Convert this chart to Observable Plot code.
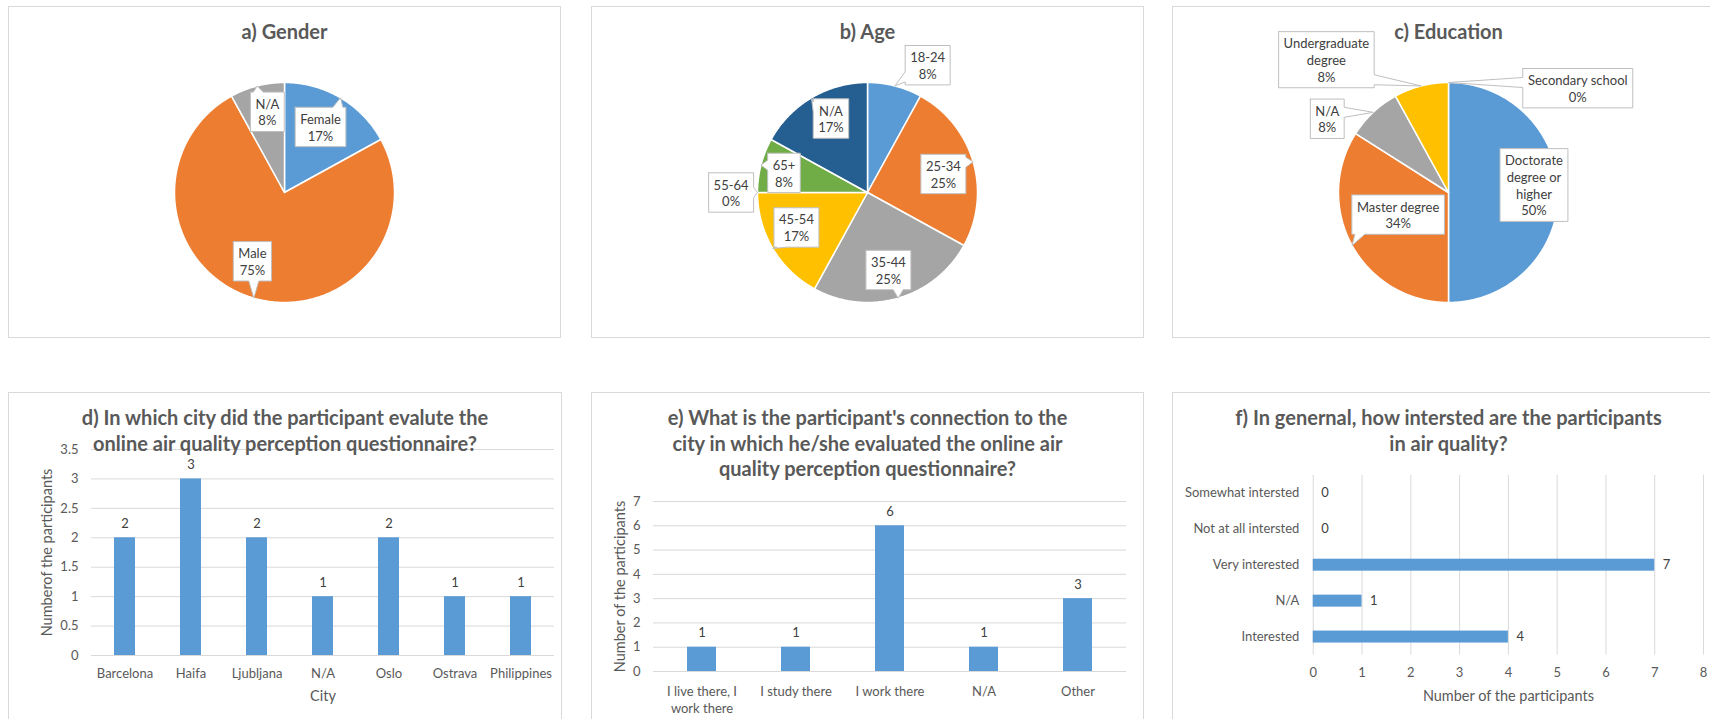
<!DOCTYPE html>
<html><head><meta charset="utf-8">
<script src="https://cdn.jsdelivr.net/npm/d3@7"></script>
<script src="https://cdn.jsdelivr.net/npm/@observablehq/plot@0.6"></script>
<style>
html,body{margin:0;padding:0;background:#fff;}
#root{position:relative;width:1710px;height:719px;overflow:hidden;background:#fff;font-family:Lato,sans-serif;}
.panel{position:absolute;box-sizing:border-box;border:1px solid #d9d9d9;background:#fff;overflow:hidden}
.panel svg{position:absolute;left:0;top:0;}
.title{position:absolute;left:0;right:0;top:12px;text-align:center;font:bold 20px/25.5px Lato,sans-serif;color:#595959;white-space:pre;}
</style></head><body><div id="root"></div>
<script>
// ---------- data ----------
const genderCats = ["Female", "Male", "N/A"];
const genderPct = [17, 75, 8];
const ageCats = ["18-24", "25-34", "35-44", "45-54", "55-64", "65+", "N/A"];
const agePct = [8, 25, 25, 17, 0, 8, 17];
const eduCats = ["Doctorate degree or higher", "Master degree", "N/A", "Undergraduate degree", "Secondary school"];
const eduPct = [50, 34, 8, 8, 0];
const eduDisplay = ["Doctorate\ndegree or\nhigher", "Master degree", "N/A", "Undergraduate\ndegree", "Secondary school"];

const cities = ["Barcelona", "Haifa", "Ljubljana", "N/A", "Oslo", "Ostrava", "Philippines"];
const cityCounts = [2, 3, 2, 1, 2, 1, 1];
const cityTicks = [0, 0.5, 1, 1.5, 2, 2.5, 3, 3.5];

const connections = ["I live there, I work there", "I study there", "I work there", "N/A", "Other"];
const connectionTickLabels = ["I live there, I\nwork there", "I study there", "I work there", "N/A", "Other"];
const connectionCounts = [1, 1, 6, 1, 3];
const connectionTicks = [0, 1, 2, 3, 4, 5, 6, 7];

const interestCats = ["Somewhat intersted", "Not at all intersted", "Very interested", "N/A", "Interested"];
const interestCounts = [0, 0, 7, 1, 4];
const interestTicks = [0, 1, 2, 3, 4, 5, 6, 7, 8];

// ---------- styles ----------
const BLUE = "#5b9bd5", GRID = "#d9d9d9", LABEL = "#404040";
const excelColors = ["#5b9bd5", "#ed7d31", "#a5a5a5", "#ffc000", "#4472c4", "#70ad47", "#255e91"];
const style = {fontFamily: "Lato, sans-serif", fontSize: "13px", color: "#595959", background: "transparent", overflow: "visible"};
const LH = 16.7;
const ctx = document.createElement("canvas").getContext("2d");
ctx.font = "13px Lato";

const root = document.getElementById("root");
function panel(left, top, w, h, title, svg) {
  const div = document.createElement("div");
  div.className = "panel";
  Object.assign(div.style, {left: left + "px", top: top + "px", width: w + "px", height: h + "px"});
  div.appendChild(svg);
  const t = document.createElement("div");
  t.className = "title";
  t.textContent = title;
  div.appendChild(t);
  root.appendChild(div);
}

function callout(cx, cy, w, h, tx, ty) {
  const L = cx - w / 2, R = cx + w / 2, T = cy - h / 2, B = cy + h / 2;
  const inside = tx >= L - 1 && tx <= R + 1 && ty >= T - 1 && ty <= B + 1;
  const dx = tx - cx, dy = ty - cy;
  let edge = null;
  if (!inside) edge = Math.abs(dx) * h > Math.abs(dy) * w ? (dx > 0 ? "R" : "L") : (dy > 0 ? "B" : "T");
  const hw = 5;
  const clamp = (v, a, b) => Math.max(a, Math.min(b, v));
  const p = [[L, T]];
  if (edge === "T") { const bx = clamp(tx, L + hw + 3, R - hw - 3); p.push([bx - hw, T], [tx, ty], [bx + hw, T]); }
  p.push([R, T]);
  if (edge === "R") { const by = clamp(ty, T + hw + 3, B - hw - 3); p.push([R, by - hw], [tx, ty], [R, by + hw]); }
  p.push([R, B]);
  if (edge === "B") { const bx = clamp(tx, L + hw + 3, R - hw - 3); p.push([bx + hw, B], [tx, ty], [bx - hw, B]); }
  p.push([L, B]);
  if (edge === "L") { const by = clamp(ty, T + hw + 3, B - hw - 3); p.push([L, by + hw], [tx, ty], [L, by - hw]); }
  p.push([L, T]);
  return p;
}

// label placement: angle shift from slice middle (deg), distance as fraction of radius
function pie(cats, pct, colors, display, shift, rad) {
  const r = 110, cx = 275, cy = 185, W = 551, H = 330;
  const total = d3.sum(pct);
  const toRad = Math.PI / 180;
  let acc = 0;
  const slices = pct.map((v, i) => {
    const a0 = acc / total * 360; acc += v; const a1 = acc / total * 360;
    return {k: cats[i], v, a0, a1, mid: (a0 + a1) / 2};
  });
  const pts = [];
  for (const s of slices) {
    if (s.v <= 0) continue;
    pts.push({k: s.k, x: 0, y: 0});
    const n = Math.max(2, Math.ceil((s.a1 - s.a0) * 2));
    for (let j = 0; j <= n; j++) {
      const a = (s.a0 + (s.a1 - s.a0) * j / n) * toRad;
      pts.push({k: s.k, x: Math.sin(a), y: Math.cos(a)});
    }
    pts.push({k: s.k, x: 0, y: 0});
  }
  const boxes = [], labels = [];
  slices.forEach((s, i) => {
    const lines = display[i].split("\n").concat([s.v + "%"]);
    const w = d3.max(lines, l => ctx.measureText(l).width) + 10;
    const h = lines.length * LH + 6;
    const la = (s.mid + shift[i]) * toRad;
    const lx = r * rad[i] * Math.sin(la), ly = -r * rad[i] * Math.cos(la);
    const tx = r * Math.sin(s.mid * toRad), ty = -r * Math.cos(s.mid * toRad);
    callout(lx, ly, w, h, tx, ty).forEach(([px, py]) => boxes.push({k: s.k, x: px / r, y: -py / r}));
    labels.push({x: lx / r, y: -ly / r, text: lines.join("\n")});
  });
  return Plot.plot({
    width: W, height: H, margin: 0, style,
    x: {domain: [-1, 1], range: [cx - r, cx + r], axis: null},
    y: {domain: [-1, 1], range: [cy + r, cy - r], axis: null},
    color: {domain: cats, range: colors},
    marks: [
      Plot.line(pts, {x: "x", y: "y", z: "k", fill: "k", stroke: "#fff", strokeWidth: 1.5, strokeLinejoin: "round"}),
      Plot.line(boxes, {x: "x", y: "y", z: "k", fill: "#fff", stroke: "#bfbfbf", strokeWidth: 1, strokeLinejoin: "miter"}),
      Plot.text(labels, {x: "x", y: "y", text: "text", fontSize: 13, lineHeight: LH / 13, fill: LABEL})
    ]
  });
}

// ---------- pies ----------
panel(8, 6, 553, 332, "a) Gender",
  pie(genderCats, genderPct, excelColors.slice(0, 3), genderCats, [-1.8, 8.8, 2.4], [0.68, 0.69, 0.75]));
panel(591, 6, 553, 332, "b) Age",
  pie(ageCats, agePct, excelColors, ageCats, [10.9, 2.5, 1.1, 4.4, 0, -1.2, 4.3], [1.28, 0.71, 0.73, 0.72, 1.24, 0.78, 0.75]));
panel(1172, 6, 553, 332, "c) Education",
  pie(eduCats, eduPct, excelColors.slice(0, 5), eduDisplay, [-5, 5.1, -15.5, -28.2, 51.1], [0.78, 0.5, 1.29, 1.64, 1.51]));

// ---------- d) cities ----------
panel(8, 392, 554, 340, "d) In which city did the participant evalute the\nonline air quality perception questionnaire?",
  Plot.plot({
    width: 552, height: 327, marginLeft: 82, marginRight: 7, marginTop: 56, marginBottom: 65, style,
    x: {domain: cities, paddingInner: 0.68, paddingOuter: 0.34},
    y: {domain: [0, 3.5]},
    marks: [
      Plot.gridY(cityTicks, {stroke: GRID, strokeOpacity: 1}),
      Plot.barY(cityCounts, {x: cities, y: cityCounts, fill: BLUE}),
      Plot.text(cityCounts, {x: cities, y: cityCounts, text: d => String(d), dy: -14, fill: LABEL}),
      Plot.axisY(cityTicks, {tickSize: 0, tickPadding: 13, tickFormat: d => String(d), label: null}),
      Plot.axisX({tickSize: 0, tickPadding: 13, label: null}),
      Plot.text(["City"], {text: d => d, frameAnchor: "bottom", lineAnchor: "middle", dy: 41, fontSize: 14.5}),
      Plot.text(["Numberof the participants"], {text: d => d, frameAnchor: "left", textAnchor: "middle", lineAnchor: "middle", dx: -44, rotate: -90, fontSize: 14.5})
    ]
  }));

// ---------- e) connection ----------
panel(591, 392, 553, 340, "e) What is the participant's connection to the\ncity in which he/she evaluated the online air\nquality perception questionnaire?",
  Plot.plot({
    width: 551, height: 327, marginLeft: 61, marginRight: 17, marginTop: 108, marginBottom: 49, style,
    x: {domain: connections, paddingInner: 0.687, paddingOuter: 0.343, axis: null},
    y: {domain: [0, 7]},
    marks: [
      Plot.gridY(connectionTicks, {stroke: GRID, strokeOpacity: 1}),
      Plot.barY(connectionCounts, {x: connections, y: connectionCounts, fill: BLUE}),
      Plot.text(connectionCounts, {x: connections, y: connectionCounts, text: d => String(d), dy: -14, fill: LABEL}),
      Plot.axisY(connectionTicks, {tickSize: 0, tickPadding: 13, label: null}),
      Plot.text(connections, {x: connections, text: connectionTickLabels, frameAnchor: "bottom", lineAnchor: "top", dy: 13, lineHeight: 1.28}),
      Plot.text(["Number of the participants"], {text: d => d, frameAnchor: "left", textAnchor: "middle", lineAnchor: "middle", dx: -33, rotate: -90, fontSize: 14.5})
    ]
  }));

// ---------- f) interest ----------
panel(1172, 392, 553, 340, "f) In genernal, how intersted are the participants\nin air quality?",
  Plot.plot({
    width: 552, height: 327, marginLeft: 140, marginRight: 21, marginTop: 82, marginBottom: 65, style,
    x: {domain: [0, 8]},
    y: {domain: interestCats, paddingInner: 0.667, paddingOuter: 0.333},
    marks: [
      Plot.gridX(interestTicks, {stroke: GRID, strokeOpacity: 1}),
      Plot.barX(interestCounts, {x: interestCounts, y: interestCats, fill: BLUE}),
      Plot.text(interestCounts, {x: interestCounts, y: interestCats, text: d => String(d), dx: 8, textAnchor: "start", fill: LABEL}),
      Plot.axisX(interestTicks, {tickSize: 0, tickPadding: 13, label: null}),
      Plot.axisY({tickSize: 0, tickPadding: 14, label: null}),
      Plot.text(["Number of the participants"], {text: d => d, frameAnchor: "bottom", lineAnchor: "middle", dy: 41, fontSize: 14.5})
    ]
  }));
</script></body></html>
